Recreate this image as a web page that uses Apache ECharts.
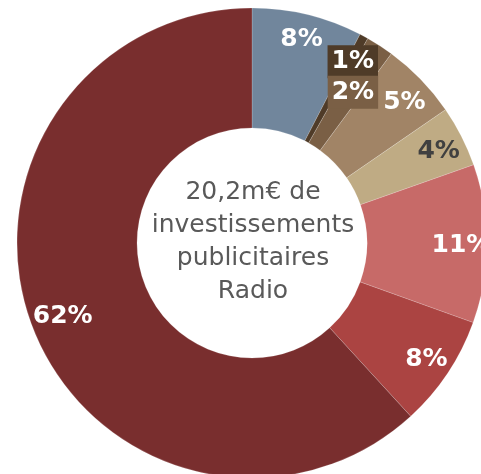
<!DOCTYPE html>
<html lang="fr">
<head>
    <meta charset="UTF-8">
    <title>Investissements publicitaires Radio</title>
    <script src="https://cdn.jsdelivr.net/npm/echarts@6/dist/echarts.min.js"></script>
    <style>
        html, body { margin: 0; padding: 0; background: #fff; }
    </style>
</head>
<body>
<div id="pieChart" style="width: 481px; height: 474px;"></div>
<script>
    // parts (%) dans l'ordre horaire depuis midi
    var categories = ['A', 'B', 'C', 'D', 'E', 'F', 'G', 'H'];
    var shares = [7.6, 0.6, 1.9, 5.3, 4.2, 10.9, 7.7, 61.8];
    var colors = ['#71869c', '#4f3b28', '#7a5f45', '#a18466', '#bfab84', '#c76a68', '#ab4442', '#792e2e'];
    var labelColors = ['#fff', '#fff', '#fff', '#fff', '#404040', '#fff', '#fff', '#fff'];
    var centerText = '20,2m€ de\ninvestissements\npublicitaires\nRadio';

    var chart = echarts.init(document.getElementById('pieChart'));

    var ringData = [];
    var labelData = [];
    for (var i = 0; i < categories.length; i++) {
        ringData.push({
            name: categories[i],
            value: shares[i],
            itemStyle: {color: colors[i]}
        });
        var lbl = {color: labelColors[i]};
        if (i === 1 || i === 2) {
            lbl.backgroundColor = colors[i];
            lbl.padding = [5, 4, 3, 4];
        }
        labelData.push({
            name: categories[i],
            value: shares[i],
            label: lbl
        });
    }

    var option = {
        animation: false,
        series: [
            {
                type: 'pie',
                center: [252, 243],
                radius: [115, 235],
                startAngle: 90,
                clockwise: true,
                silent: true,
                label: {show: false},
                labelLine: {show: false},
                itemStyle: {borderColor: 'rgba(255,255,255,0.35)', borderWidth: 0.5},
                data: ringData
            },
            {
                // série invisible qui porte les étiquettes
                type: 'pie',
                center: [252, 243],
                radius: [178, 235],
                startAngle: 90,
                clockwise: true,
                silent: true,
                itemStyle: {color: 'rgba(0,0,0,0)'},
                label: {
                    show: true,
                    position: 'inside',
                    fontFamily: 'DejaVu Sans',
                    fontSize: 25,
                    fontWeight: 'bold',
                    formatter: function (p) {
                        return Math.round(p.value) + '%';
                    }
                },
                labelLayout: function (p) {
                    if (p.dataIndex === 1) return {dx: 1, dy: 3};
                    if (p.dataIndex === 2) return {dx: -13, dy: 25};
                    if (p.dataIndex === 3) return {dx: 2, dy: 5};
                    if (p.dataIndex === 4) return {dy: 4};
                    if (p.dataIndex === 5) return {dy: 2};
                    if (p.dataIndex === 7) return {dx: 6, dy: -2};
                    return {};
                },
                labelLine: {show: false},
                data: labelData
            }
        ],
        graphic: [{
            type: 'text',
            x: 253,
            y: 242,
            style: {
                text: centerText,
                align: 'center',
                verticalAlign: 'middle',
                fill: '#595959',
                font: '25px "DejaVu Sans"',
                lineHeight: 33
            }
        }]
    };

    chart.setOption(option);
</script>
</body>
</html>
